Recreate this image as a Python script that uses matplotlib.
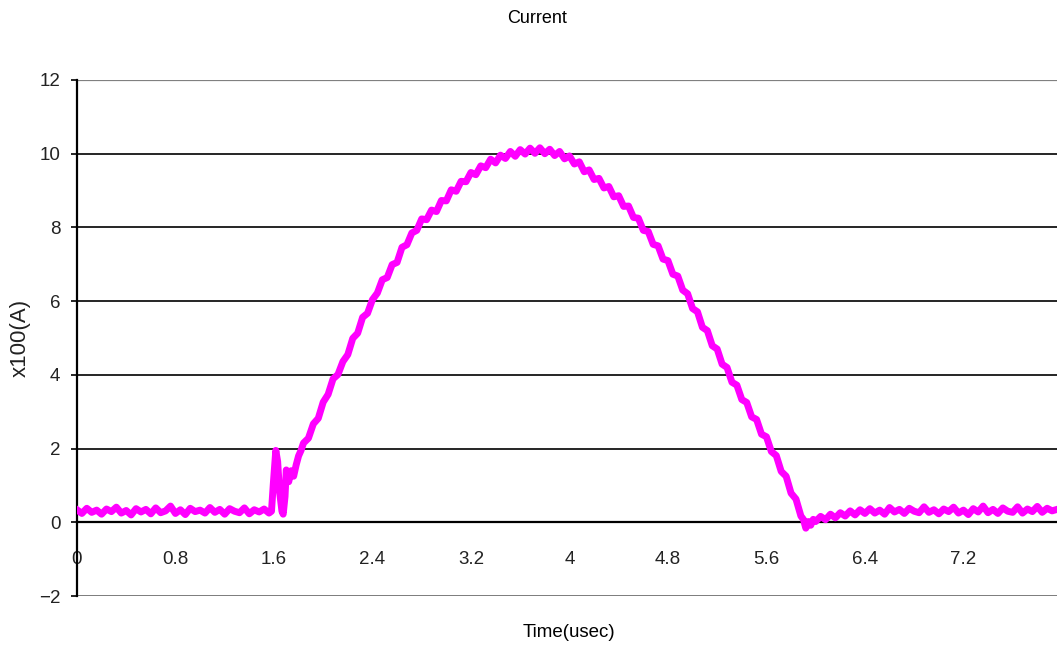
import matplotlib
matplotlib.use("Agg")
import matplotlib.pyplot as plt

# trace: time in usec, current in x100 A
pre_t = [0.00, 0.04, 0.08, 0.12, 0.16, 0.20, 0.24, 0.28, 0.32, 0.36,
         0.40, 0.44, 0.48, 0.52, 0.56, 0.60, 0.64, 0.68, 0.72, 0.76,
         0.80, 0.84, 0.88, 0.92, 0.96, 1.00, 1.04, 1.08, 1.12, 1.16,
         1.20, 1.24, 1.28, 1.32, 1.36, 1.40, 1.44, 1.48, 1.52, 1.56]
pre_i = [0.34, 0.24, 0.38, 0.27, 0.33, 0.22, 0.36, 0.29, 0.41, 0.25,
         0.32, 0.20, 0.37, 0.28, 0.35, 0.23, 0.39, 0.26, 0.31, 0.44,
         0.24, 0.34, 0.21, 0.38, 0.29, 0.33, 0.25, 0.40, 0.27, 0.35,
         0.22, 0.37, 0.30, 0.26, 0.39, 0.23, 0.34, 0.28, 0.36, 0.25]

spike_t = [1.58, 1.595, 1.615, 1.63, 1.645, 1.665, 1.675, 1.69, 1.70,
           1.72, 1.74, 1.76, 1.78, 1.80, 1.82]
spike_i = [0.30, 1.05, 1.95, 1.65, 0.85, 0.30, 0.22, 0.70, 1.42,
           1.10, 1.40, 1.25, 1.55, 1.80, 1.95]

pulse_t = [1.84, 1.88, 1.92, 1.96, 2.00, 2.04, 2.08, 2.12, 2.16, 2.20,
           2.24, 2.28, 2.32, 2.36, 2.40, 2.44, 2.48, 2.52, 2.56, 2.60,
           2.64, 2.68, 2.72, 2.76, 2.80, 2.84, 2.88, 2.92, 2.96, 3.00,
           3.04, 3.08, 3.12, 3.16, 3.20, 3.24, 3.28, 3.32, 3.36, 3.40,
           3.44, 3.48, 3.52, 3.56, 3.60, 3.64, 3.68, 3.72, 3.76, 3.80,
           3.84, 3.88, 3.92, 3.96, 4.00, 4.04, 4.08, 4.12, 4.16, 4.20,
           4.24, 4.28, 4.32, 4.36, 4.40, 4.44, 4.48, 4.52, 4.56, 4.60,
           4.64, 4.68, 4.72, 4.76, 4.80, 4.84, 4.88, 4.92, 4.96, 5.00,
           5.04, 5.08, 5.12, 5.16, 5.20, 5.24, 5.28, 5.32, 5.36, 5.40,
           5.44, 5.48, 5.52, 5.56, 5.60, 5.64, 5.68, 5.72, 5.76, 5.80,
           5.84, 5.88, 5.90, 5.92, 5.94, 5.96, 5.98, 6.00, 6.04, 6.08,
           6.12, 6.16, 6.20, 6.24, 6.28, 6.32, 6.36, 6.40]
pulse_i = [2.15, 2.28, 2.67, 2.82, 3.26, 3.47, 3.89, 4.01, 4.36, 4.55,
           4.99, 5.13, 5.56, 5.67, 6.04, 6.22, 6.58, 6.64, 6.99, 7.05,
           7.46, 7.53, 7.85, 7.92, 8.23, 8.21, 8.47, 8.43, 8.73, 8.72,
           9.02, 8.98, 9.25, 9.24, 9.49, 9.43, 9.67, 9.62, 9.85, 9.75,
           9.96, 9.87, 10.06, 9.93, 10.11, 9.99, 10.15, 10.01, 10.16, 10.00,
           10.12, 9.95, 10.06, 9.86, 9.94, 9.72, 9.78, 9.51, 9.56, 9.30,
           9.33, 9.07, 9.11, 8.83, 8.86, 8.57, 8.58, 8.27, 8.25, 7.92,
           7.89, 7.54, 7.50, 7.14, 7.10, 6.73, 6.68, 6.30, 6.20, 5.80,
           5.71, 5.29, 5.20, 4.79, 4.70, 4.29, 4.20, 3.80, 3.72, 3.33,
           3.25, 2.86, 2.79, 2.39, 2.32, 1.92, 1.81, 1.38, 1.25, 0.79,
           0.63, 0.17, 0.08, -0.16, 0.02, -0.08, 0.08, 0.02, 0.16, 0.07,
           0.22, 0.12, 0.26, 0.17, 0.31, 0.20, 0.34, 0.24]

post_t = [6.44, 6.48, 6.52, 6.56, 6.60, 6.64, 6.68, 6.72, 6.76, 6.80,
          6.84, 6.88, 6.92, 6.96, 7.00, 7.04, 7.08, 7.12, 7.16, 7.20,
          7.24, 7.28, 7.32, 7.36, 7.40, 7.44, 7.48, 7.52, 7.56, 7.60,
          7.64, 7.68, 7.72, 7.76, 7.80, 7.84, 7.88, 7.92, 7.96]
post_i = [0.37, 0.25, 0.33, 0.22, 0.40, 0.28, 0.35, 0.24, 0.38, 0.30,
          0.26, 0.42, 0.27, 0.34, 0.23, 0.36, 0.29, 0.41, 0.25, 0.33,
          0.21, 0.37, 0.28, 0.44, 0.26, 0.35, 0.24, 0.39, 0.30, 0.27,
          0.42, 0.25, 0.36, 0.29, 0.43, 0.27, 0.38, 0.31, 0.35]

x_ticks = [0, 0.8, 1.6, 2.4, 3.2, 4, 4.8, 5.6, 6.4, 7.2]
x_labels = ["0", "0.8", "1.6", "2.4", "3.2", "4", "4.8", "5.6", "6.4", "7.2"]
y_ticks = [-2, 0, 2, 4, 6, 8, 10, 12]
y_labels = ["\u22122", "0", "2", "4", "6", "8", "10", "12"]

t = pre_t + spike_t + pulse_t + post_t
cur = pre_i + spike_i + pulse_i + post_i

plt.rcParams['font.family'] = ['Liberation Sans', 'DejaVu Sans']

fig = plt.figure(figsize=(10.57, 6.47), dpi=100)
ax = fig.add_axes([0.0728, 0.0788, 0.9272, 0.7976])

# horizontal grid, black inside, grey at the frame edges
for v in [2, 4, 6, 8, 10]:
    ax.axhline(v, color='black', lw=1.2, zorder=1)
ax.axhline(12, color='#808080', lw=1.6, zorder=1)
ax.axhline(-2, color='#707070', lw=2.0, zorder=1)

ax.plot(t, cur, color='#FF00FF', lw=5.0, solid_joinstyle='round', zorder=3)

ax.set_xlim(0, 7.96)
ax.set_ylim(-2, 12)

# x axis sits on the zero line
ax.spines['bottom'].set_position(('data', 0))
ax.spines['bottom'].set_linewidth(1.6)
ax.spines['left'].set_linewidth(1.6)
ax.spines['top'].set_visible(False)
ax.spines['right'].set_visible(False)

ax.set_xticks(x_ticks)
ax.set_xticklabels(x_labels, fontsize=13.5, color='#222222')
ax.tick_params(axis='x', length=0, pad=21)
ax.set_yticks(y_ticks)
ax.set_yticklabels(y_labels, fontsize=13.5, color='#222222')
ax.tick_params(axis='y', length=4, width=1.2, pad=8)

ax.set_ylabel("x100(A)", fontsize=16, color='#222222', labelpad=6)
fig.text(0.508, 0.972, "Current", ha='center', va='center', fontsize=13,
         family=['Liberation Sans Narrow', 'Liberation Sans'])
fig.text(0.538, 0.023, "Time(usec)", ha='center', va='center', fontsize=13.5,
         family=['Liberation Sans Narrow', 'Liberation Sans'])

fig.savefig("out.png", dpi=100)
